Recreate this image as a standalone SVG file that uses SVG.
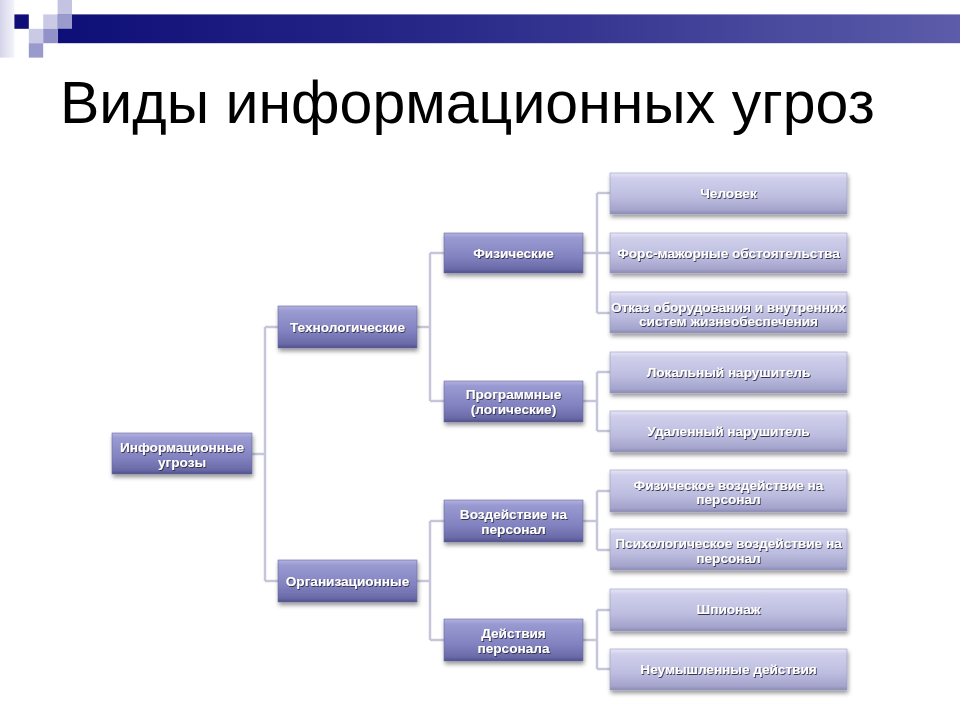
<svg xmlns="http://www.w3.org/2000/svg" width="960" height="720" viewBox="0 0 960 720">
  <defs>
    <linearGradient id="bar" x1="0" y1="0" x2="1" y2="0">
      <stop offset="0" stop-color="#0e0e78"/>
      <stop offset="0.45" stop-color="#2a2a8a"/>
      <stop offset="1" stop-color="#5c5caa"/>
    </linearGradient>
    <linearGradient id="strip" x1="0" y1="0" x2="1" y2="0">
      <stop offset="0" stop-color="#d4d4ea"/>
      <stop offset="1" stop-color="#f4f4fa"/>
    </linearGradient>
    <linearGradient id="dark" x1="0" y1="0" x2="0" y2="1">
      <stop offset="0" stop-color="#b2b2e2"/>
      <stop offset="0.12" stop-color="#9a9ad2"/>
      <stop offset="0.6" stop-color="#8282c0"/>
      <stop offset="0.9" stop-color="#6a6aa8"/>
      <stop offset="1" stop-color="#50508a"/>
    </linearGradient>
    <linearGradient id="light" x1="0" y1="0" x2="0" y2="1">
      <stop offset="0" stop-color="#e6e6f6"/>
      <stop offset="0.12" stop-color="#d0d0ec"/>
      <stop offset="0.6" stop-color="#bcbcdf"/>
      <stop offset="0.9" stop-color="#a4a4cc"/>
      <stop offset="1" stop-color="#8a8ab4"/>
    </linearGradient>
    <filter id="boxShadow" x="-10%" y="-20%" width="125%" height="160%">
      <feDropShadow dx="1" dy="3" stdDeviation="2" flood-color="#000000" flood-opacity="0.4"/>
    </filter>
    <filter id="txtShadow" x="-5%" y="-30%" width="110%" height="160%">
      <feDropShadow dx="0.8" dy="1" stdDeviation="0.7" flood-color="#2a2a48" flood-opacity="0.95"/>
    </filter>
  </defs>
  <style>
    .title { font-family: "Liberation Sans", Arial, sans-serif; font-size: 59px; fill: #000000; }
    .dk { fill: url(#dark); stroke: #6a6aa0; stroke-width: 0.6; filter: url(#boxShadow); }
    .lt { fill: url(#light); stroke: #9a9ac4; stroke-width: 0.6; filter: url(#boxShadow); }
    .lbl { font-family: "Liberation Sans", Arial, sans-serif; font-size: 13.6px; font-weight: bold; fill: #ffffff; text-anchor: middle; filter: url(#txtShadow); }
    .conn { fill: none; stroke: #c6c6da; stroke-width: 2.5; }
  </style>

  <rect width="960" height="720" fill="#ffffff"/>

  <g id="header">
    <rect x="0" y="0" width="14.4" height="57.6" fill="url(#strip)"/>
    <rect x="57.6" y="14.4" width="902.4" height="28.8" fill="url(#bar)"/>
    <rect x="14.4" y="14.4" width="14.4" height="14.4" fill="#0e0e78"/>
    <rect x="43.2" y="14.4" width="14.4" height="14.4" fill="#cacae6"/>
    <rect x="57.6" y="0" width="14.4" height="14.4" fill="#c4c4e2"/>
    <rect x="57.6" y="14.4" width="14.4" height="14.4" fill="#9a9acc"/>
    <rect x="28.8" y="28.8" width="14.4" height="14.4" fill="#cacae6"/>
    <rect x="43.2" y="28.8" width="14.4" height="14.4" fill="#9292c8"/>
    <rect x="28.8" y="43.2" width="14.4" height="14.4" fill="#9a9acc"/>
  </g>

  <text class="title" x="60" y="123">Виды информационных угроз</text>

  <g id="connectors">
    <path class="conn" d="M252 454 H265 M265 327 V581 M265 327 H278 M265 581 H278"/>
    <path class="conn" d="M417 327 H430 M430 253 V401 M430 253 H444 M430 401 H444"/>
    <path class="conn" d="M417 581 H430 M430 521 V640 M430 521 H444 M430 640 H444"/>
    <path class="conn" d="M583 253 H597 M597 193 V313 M597 193 H610 M597 253 H610 M597 313 H610"/>
    <path class="conn" d="M583 401 H597 M597 372 V431 M597 372 H610 M597 431 H610"/>
    <path class="conn" d="M583 521 H597 M597 491 V550 M597 491 H610 M597 550 H610"/>
    <path class="conn" d="M583 640 H597 M597 610 V669 M597 610 H610 M597 669 H610"/>
  </g>

  <g id="n-root">
    <rect class="dk" x="112" y="433" width="140" height="41"/>
    <text class="lbl" x="182" y="452">Информационные</text>
    <text class="lbl" x="182" y="467">угрозы</text>
  </g>

  <g id="n-tech">
    <rect class="dk" x="278" y="306" width="139" height="42"/>
    <text class="lbl" x="347.5" y="331.5">Технологические</text>
  </g>
  <g id="n-org">
    <rect class="dk" x="278" y="560" width="139" height="42"/>
    <text class="lbl" x="347.5" y="585.5">Организационные</text>
  </g>

  <g id="n-phys">
    <rect class="dk" x="444" y="233" width="139" height="40"/>
    <text class="lbl" x="513.5" y="257.5">Физические</text>
  </g>
  <g id="n-prog">
    <rect class="dk" x="444" y="381" width="139" height="41"/>
    <text class="lbl" x="513.5" y="399">Программные</text>
    <text class="lbl" x="513.5" y="413.5">(логические)</text>
  </g>
  <g id="n-impact">
    <rect class="dk" x="444" y="500" width="139" height="42"/>
    <text class="lbl" x="513.5" y="519">Воздействие на</text>
    <text class="lbl" x="513.5" y="533.5">персонал</text>
  </g>
  <g id="n-actions">
    <rect class="dk" x="444" y="619" width="139" height="42"/>
    <text class="lbl" x="513.5" y="638">Действия</text>
    <text class="lbl" x="513.5" y="652.5">персонала</text>
  </g>

  <g id="n-human">
    <rect class="lt" x="610" y="173" width="237" height="41"/>
    <text class="lbl" x="728.5" y="198">Человек</text>
  </g>
  <g id="n-force">
    <rect class="lt" x="610" y="233" width="237" height="40"/>
    <text class="lbl" x="728.5" y="257.5">Форс-мажорные обстоятельства</text>
  </g>
  <g id="n-failure">
    <rect class="lt" x="610" y="292" width="237" height="41"/>
    <text class="lbl" x="728.5" y="311.5">Отказ оборудования и внутренних</text>
    <text class="lbl" x="728.5" y="325.5">систем жизнеобеспечения</text>
  </g>
  <g id="n-local">
    <rect class="lt" x="610" y="352" width="237" height="41"/>
    <text class="lbl" x="728.5" y="376.5">Локальный нарушитель</text>
  </g>
  <g id="n-remote">
    <rect class="lt" x="610" y="411" width="237" height="41"/>
    <text class="lbl" x="728.5" y="435.5">Удаленный нарушитель</text>
  </g>
  <g id="n-physimpact">
    <rect class="lt" x="610" y="470" width="237" height="42"/>
    <text class="lbl" x="728.5" y="489.5">Физическое воздействие на</text>
    <text class="lbl" x="728.5" y="504">персонал</text>
  </g>
  <g id="n-psych">
    <rect class="lt" x="610" y="529" width="237" height="41"/>
    <text class="lbl" x="728.5" y="548">Психологическое воздействие на</text>
    <text class="lbl" x="728.5" y="562.5">персонал</text>
  </g>
  <g id="n-spy">
    <rect class="lt" x="610" y="589" width="237" height="42"/>
    <text class="lbl" x="728.5" y="614">Шпионаж</text>
  </g>
  <g id="n-unint">
    <rect class="lt" x="610" y="649" width="237" height="41"/>
    <text class="lbl" x="728.5" y="673.5">Неумышленные действия</text>
  </g>
</svg>
